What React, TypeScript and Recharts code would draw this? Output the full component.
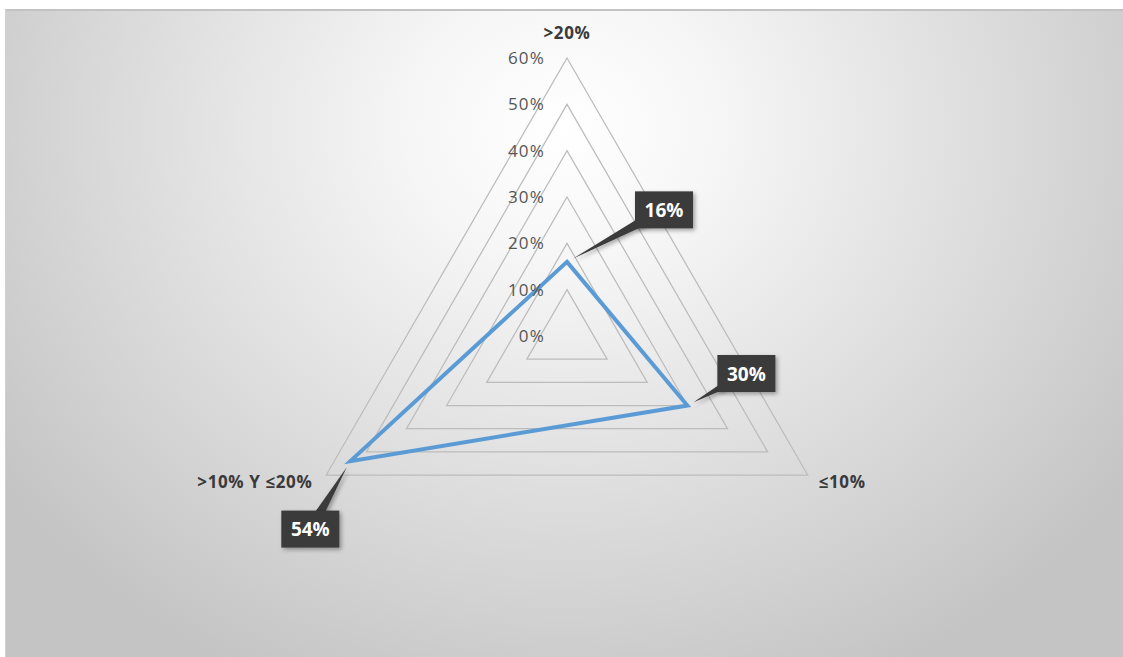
import { RadarChart, Radar, PolarGrid, PolarAngleAxis, PolarRadiusAxis } from "recharts";

// categories, clockwise from the top
const categories = [">20%", "≤10%", ">10% Y ≤20%"];
const shares = [16, 30, 54];
const radiusTicks = [0, 10, 20, 30, 40, 50, 60];

const data = categories.map((name, i) => ({ name, value: shares[i] }));

// where each callout box sits relative to its point (dx, dy)
const CALLOUT_OFFSETS = [
  [97, -52],
  [59, -32],
  [-40, 68],
];

const FONT = "'Open Sans', 'Liberation Sans', sans-serif";

const AngleTick = (props) => {
  const { x, y, payload, textAnchor } = props;
  let dx = 0;
  let dy = -11;
  if (textAnchor === "end") {
    dx = -7;
    dy = 9;
  } else if (textAnchor === "start") {
    dx = 4;
    dy = 9;
  }
  return (
    <text
      x={x + dx}
      y={y + dy}
      textAnchor={textAnchor}
      fill="#3a3a3a"
      fontFamily={FONT}
      fontSize={17}
      fontWeight="bold"
      letterSpacing={0.6}
    >
      {payload.value}
    </text>
  );
};

const RadiusTick = (props) => {
  const { x, y, payload } = props;
  return (
    <text
      x={x - 22}
      y={y + 6}
      textAnchor="end"
      fill="#555555"
      fontFamily={FONT}
      fontSize={17}
      letterSpacing={1.2}
    >
      {`${payload.value}%`}
    </text>
  );
};

const renderCallout = (props) => {
  const px = props.x ?? props.viewBox?.x;
  const py = props.y ?? props.viewBox?.y;
  const index = props.index ?? 0;
  const value = props.value;
  if (px == null || py == null) return null;
  const [ox, oy] = CALLOUT_OFFSETS[index] || [40, -40];
  const bx = px + ox;
  const by = py + oy;
  const len = Math.sqrt(ox * ox + oy * oy);
  const ux = ox / len;
  const uy = oy / len;
  const nx = -uy;
  const ny = ux;
  const tx = px + ux * 7;
  const ty = py + uy * 7;
  const w = 58;
  const h = 37;
  return (
    <g key={`callout-${index}`}>
      <polygon
        points={`${tx},${ty} ${bx + nx * 6},${by + ny * 6} ${bx - nx * 6},${by - ny * 6}`}
        fill="#3a3a3a"
        filter="url(#calloutShadow)"
      />
      <rect
        x={bx - w / 2}
        y={by - h / 2}
        width={w}
        height={h}
        fill="#3a3a3a"
        filter="url(#calloutShadow)"
      />
      <text
        x={bx}
        y={by + 7}
        textAnchor="middle"
        fill="#ffffff"
        fontFamily={FONT}
        fontSize={19}
        fontWeight="bold"
      >
        {`${value}%`}
      </text>
    </g>
  );
};

export default function App() {
  return (
    <div
      style={{
        position: "absolute",
        left: 0,
        top: 0,
        width: 1123,
        height: 657,
        background: "#ffffff",
      }}
    >
      <div
        style={{
          position: "absolute",
          left: 5,
          top: 9,
          width: 1118,
          height: 648,
          boxSizing: "border-box",
          borderTop: "2px solid #c2c2c2",
          borderLeft: "1px solid #d0d0d0",
          background:
            "radial-gradient(ellipse 62% 95% at 50% 18%, #ffffff 0%, #f6f6f6 22%, #c4c4c4 100%)",
        }}
      >
        <RadarChart
          width={1116}
          height={646}
          cx={561}
          cy={325}
          outerRadius={278}
          data={data}
          startAngle={90}
          endAngle={-270}
        >
          <defs>
            <filter id="calloutShadow" x="-30%" y="-30%" width="160%" height="160%">
              <feDropShadow dx="2" dy="2" stdDeviation="2" floodColor="#000" floodOpacity="0.35" />
            </filter>
          </defs>
          <PolarGrid gridType="polygon" radialLines={false} stroke="#bcbcbc" strokeWidth={1.25} />
          <PolarAngleAxis dataKey="name" tick={AngleTick} axisLine={false} tickLine={false} />
          <PolarRadiusAxis
            angle={90}
            domain={[0, 60]}
            ticks={radiusTicks}
            tick={RadiusTick}
            axisLine={false}
            tickLine={false}
          />
          <Radar
            dataKey="value"
            stroke="#5b9bd5"
            strokeWidth={4}
            fill="none"
            fillOpacity={0}
            dot={false}
            isAnimationActive={false}
            label={renderCallout}
          />
        </RadarChart>
      </div>
    </div>
  );
}
